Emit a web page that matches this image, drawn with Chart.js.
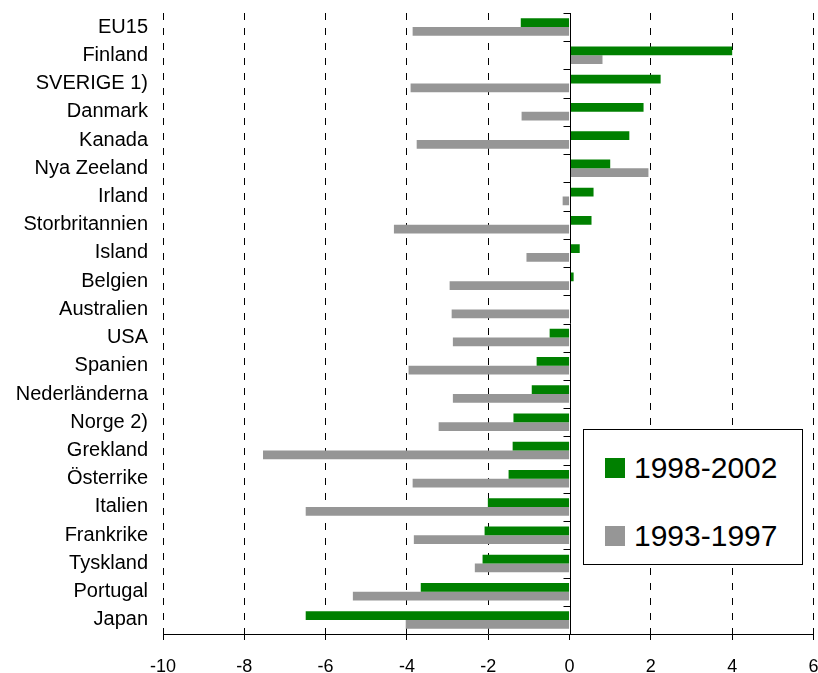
<!DOCTYPE html>
<html>
<head>
<meta charset="utf-8">
<script src="https://cdn.jsdelivr.net/npm/chart.js@4/dist/chart.umd.min.js"></script>
<style>
  html, body { margin: 0; padding: 0; background: #fff; overflow: hidden; }
  #wrap { position: relative; width: 840px; height: 673px; }
  #legend {
    position: absolute; left: 583px; top: 429px; width: 218px; height: 134px;
    border: 1px solid #000; background: #fff;
    font-family: 'Liberation Sans', Arial, sans-serif; font-size: 30px; color: #000;
  }
  #legend .item { position: absolute; left: 21px; display: flex; align-items: center; }
  #legend .box { width: 20px; height: 20px; margin-right: 9px; }
</style>
</head>
<body>
<div id="wrap">
  <canvas id="myChart"></canvas>
  <div id="legend"></div>
</div>
<script>
const categories = ['EU15', 'Finland', 'SVERIGE 1)', 'Danmark', 'Kanada', 'Nya Zeeland', 'Irland',
  'Storbritannien', 'Island', 'Belgien', 'Australien', 'USA', 'Spanien', 'Nederländerna',
  'Norge 2)', 'Grekland', 'Österrike', 'Italien', 'Frankrike', 'Tyskland', 'Portugal', 'Japan']
const values9802 = [-1.2, 4.0, 2.24, 1.82, 1.47, 1.0, 0.59, 0.54, 0.25, 0.1, 0, -0.49, -0.81, -0.93,
  -1.38, -1.4, -1.5, -2.01, -2.09, -2.14, -3.66, -6.49]
const values9397 = [-3.86, 0.81, -3.91, -1.18, -3.76, 1.94, -0.17, -4.32, -1.06, -2.95, -2.9, -2.87,
  -3.96, -2.87, -3.22, -7.54, -3.86, -6.49, -3.83, -2.33, -5.33, -4.03]
const seriesLabels = ['1998-2002', '1993-1997']
const xTicks = { min: -10, max: 6, step: 2 }

const font = "'Liberation Sans', Arial, sans-serif"

// zero line with small category ticks, drawn over the bars
const zeroAxis = {
  id: 'zeroAxis',
  afterDatasetsDraw(chart) {
    const { ctx, chartArea, scales } = chart
    const x0 = Math.round(scales.x.getPixelForValue(0)) + 0.5
    const step = scales.y.getPixelForValue(1) - scales.y.getPixelForValue(0)
    ctx.save()
    ctx.strokeStyle = '#000'
    ctx.lineWidth = 1
    ctx.beginPath()
    ctx.moveTo(x0, chartArea.top)
    ctx.lineTo(x0, chartArea.bottom)
    for (let i = 0; i < categories.length; i++) {
      const yy = Math.round(scales.y.getPixelForValue(i) - step / 2) + 0.5
      ctx.moveTo(x0 - 7, yy)
      ctx.lineTo(x0, yy)
    }
    ctx.stroke()
    ctx.restore()
  },
}

const el = document.getElementById('myChart')
const chart = new Chart(el.getContext('2d'), {
  type: 'bar',
  data: {
    labels: categories,
    datasets: [
      { label: seriesLabels[0], data: values9802, backgroundColor: '#008000' },
      { label: seriesLabels[1], data: values9397, backgroundColor: '#969696' },
    ],
  },
  options: {
    indexAxis: 'y',
    responsive: true,
    maintainAspectRatio: false,
    animation: false,
    layout: { padding: { left: 0, top: 13, right: 26.5, bottom: 0 } },
    datasets: { bar: { categoryPercentage: 0.62, barPercentage: 1 } },
    plugins: { legend: { display: false }, tooltip: { enabled: false } },
    scales: {
      x: {
        min: xTicks.min,
        max: xTicks.max,
        ticks: { stepSize: xTicks.step, color: '#000', font: { family: font, size: 18 }, padding: 16 },
        grid: {
          color: (c) => (c.tick && c.tick.value === 0 ? 'rgba(0,0,0,0)' : '#000'),
          tickColor: '#000',
          tickLength: 6,
          lineWidth: 1,
        },
        border: {
          display: true,
          color: '#000',
          width: 1,
          dash: (c) => (c.type === 'tick' ? [7, 8] : []),
        },
        afterFit: (s) => { s.height = 39 },
      },
      y: {
        grid: { display: false, tickLength: 15 },
        border: { display: false },
        ticks: { color: '#000', font: { family: font, size: 20 }, padding: 0, autoSkip: false },
        afterFit: (s) => { s.width = 163 },
      },
    },
  },
  plugins: [zeroAxis],
})

// legend box inside the plot, built from the datasets
const legend = document.getElementById('legend')
chart.data.datasets.forEach((ds, i) => {
  const item = document.createElement('div')
  item.className = 'item'
  item.style.top = (i * 68 + 21) + 'px'
  const box = document.createElement('span')
  box.className = 'box'
  box.style.background = ds.backgroundColor
  const txt = document.createElement('span')
  txt.textContent = ds.label
  item.appendChild(box)
  item.appendChild(txt)
  legend.appendChild(item)
})
</script>
</body>
</html>
